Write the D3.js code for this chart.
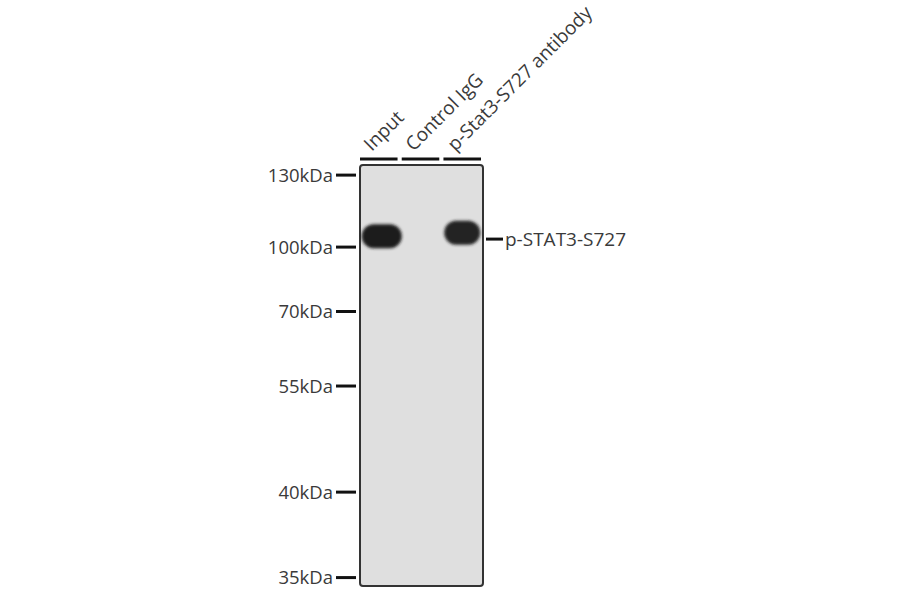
<!DOCTYPE html>
<html>
<head>
<meta charset="utf-8">
<script src="https://cdn.jsdelivr.net/npm/d3@7"></script>
<style>
  body { margin: 0; background: #fff; }
  text { font-family: "Open Sans", "Noto Sans", sans-serif; fill: #3a3a3a; }
</style>
</head>
<body>
<div id="blot"></div>
<script>
// lanes of the IP blot
var lanes = ["Input", "Control IgG", "p-Stat3-S727 antibody"];
// band signal per lane (0 = nothing)
var bandSignal = [1, 0, 0.97];
// relative migration of the band in each lane (0 = top of membrane, 1 = bottom)
var bandRf = [0.169, 0.169, 0.161];

// marker ladder
var markers = ["130kDa", "100kDa", "70kDa", "55kDa", "40kDa", "35kDa"];
var markerRf = [0.024, 0.195, 0.348, 0.525, 0.777, 0.98];

var target = "p-STAT3-S727";
var targetRf = 0.176;

var width = 900, height = 594;
var mem = { left: 360, right: 483, top: 165, bottom: 586 };

var svg = d3.select("#blot").append("svg")
  .attr("width", width)
  .attr("height", height);

var defs = svg.append("defs");
defs.append("filter").attr("id", "blur")
  .attr("x", "-30%").attr("y", "-50%").attr("width", "160%").attr("height", "200%")
  .append("feGaussianBlur").attr("stdDeviation", 1.5);

var x = d3.scaleBand()
  .domain(lanes)
  .range([mem.left, mem.right - 2])
  .paddingInner(0.1)
  .paddingOuter(0);

var y = d3.scaleLinear()
  .domain([0, 1])
  .range([mem.top, mem.bottom]);

// membrane
svg.append("rect")
  .attr("x", mem.left)
  .attr("y", mem.top)
  .attr("width", mem.right - mem.left)
  .attr("height", mem.bottom - mem.top)
  .attr("rx", 3)
  .attr("fill", "#dfdfdf")
  .attr("stroke", "#333")
  .attr("stroke-width", 2);

// bands
var bands = lanes.map(function(l, i) { return { lane: l, i: i, s: bandSignal[i], rf: bandRf[i] }; })
  .filter(function(d) { return d.s > 0; });

svg.selectAll(".band")
  .data(bands)
  .enter()
  .append("rect")
  .attr("class", "band")
  .attr("x", d => x(d.lane) + x.bandwidth() / 2 - (d.i === 0 ? 17 : 18))
  .attr("y", d => y(d.rf) - 12)
  .attr("width", d => d.i === 0 ? 40 : 36)
  .attr("height", 24)
  .attr("rx", 12)
  .attr("fill", "#1a1a1a")
  .attr("fill-opacity", d => d.s)
  .attr("filter", "url(#blur)");

// lane bars + labels
svg.selectAll(".laneBar")
  .data(lanes)
  .enter()
  .append("line")
  .attr("class", "laneBar")
  .attr("x1", d => x(d))
  .attr("x2", d => x(d) + x.bandwidth())
  .attr("y1", 159)
  .attr("y2", 159)
  .attr("stroke", "#111")
  .attr("stroke-width", 3);

svg.selectAll(".laneLabel")
  .data(lanes)
  .enter()
  .append("text")
  .attr("class", "laneLabel")
  .attr("transform", d => "translate(" + (x(d) + x.bandwidth() / 2 - 7) + ",152) rotate(-45)")
  .attr("font-size", 19)
  .text(d => d);

// marker ticks
var mk = svg.selectAll(".marker")
  .data(markers)
  .enter()
  .append("g")
  .attr("class", "marker")
  .attr("transform", (d, i) => "translate(0," + y(markerRf[i]) + ")");

mk.append("line")
  .attr("x1", 336)
  .attr("x2", 356)
  .attr("stroke", "#111")
  .attr("stroke-width", 3);

mk.append("text")
  .attr("x", 333)
  .attr("dy", "0.35em")
  .attr("text-anchor", "end")
  .attr("font-size", 18.5)
  .text(d => d);

// target label
var tg = svg.append("g").attr("transform", "translate(0," + y(targetRf) + ")");
tg.append("line")
  .attr("x1", 486)
  .attr("x2", 503)
  .attr("stroke", "#111")
  .attr("stroke-width", 3);
tg.append("text")
  .attr("x", 505)
  .attr("dy", "0.35em")
  .attr("font-size", 19)
  .text(target);
</script>
</body>
</html>
